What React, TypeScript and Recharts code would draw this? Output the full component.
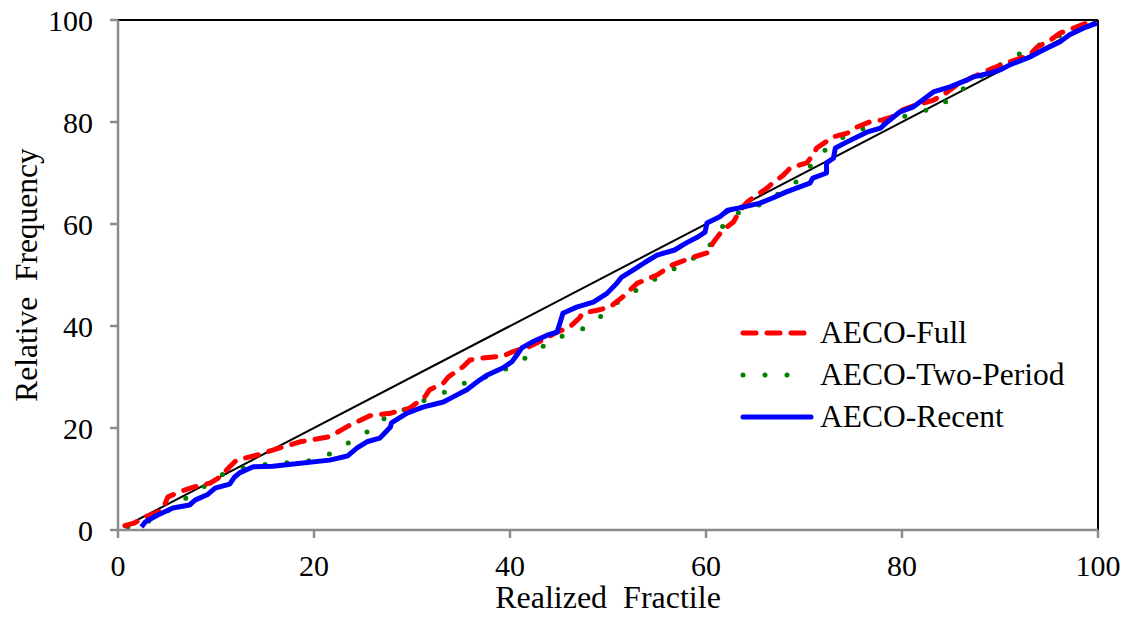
import React from "react";
import {
  LineChart,
  Line,
  XAxis,
  YAxis,
  Legend,
  ReferenceLine,
  Label,
} from "recharts";

const xTicks = [0, 20, 40, 60, 80, 100];
const yTicks = [0, 20, 40, 60, 80, 100];

const diagonal = [
  [1, 1],
  [100, 100],
];

const aecoFull = [
  [0.7, 0.85], [1.7, 1.4], [2.6, 2.4], [4.5, 3.9], [5.1, 6.5], [6.3, 7.5], [7.7, 8.4],
  [9.4, 9.2], [10.4, 10.4], [11.4, 12.4], [12.1, 13.7], [14.2, 14.7], [16.5, 16.1],
  [18.6, 17.3], [21.6, 18.3], [23.7, 20.6], [25.7, 22.4], [27.8, 22.9], [29.8, 23.9],
  [31.3, 26.1], [31.8, 27.5], [33.2, 28.8], [33.7, 30], [35.2, 32], [35.9, 33.3],
  [37.2, 33.7], [39.3, 34.1], [40.2, 34.9], [42, 36], [43.4, 37.3], [44.8, 38.8],
  [46.1, 39.8], [47.1, 41.6], [47.4, 42.5], [48.9, 43.1], [50.2, 43.7], [51.5, 45.7],
  [53, 48.4], [55, 50], [56.6, 52], [58.7, 53.5], [60.4, 54.5], [60.7, 56.3],
  [61.7, 58.8], [62.8, 60.4], [63.5, 62.7], [64.2, 64.3], [65.2, 65.7], [66.2, 67],
  [66.8, 68], [67.9, 69.6], [68.6, 71], [70.3, 72], [70.9, 73.5], [71.3, 74.9],
  [73, 77.1], [74.4, 77.8], [75.4, 79], [76.7, 80], [78, 80.4], [79, 81], [80.1, 82.4],
  [81.1, 83.1], [83.2, 84.3], [84.2, 85.3], [85.6, 87.3], [87.7, 89.2], [89.3, 90.6],
  [91, 91.8], [93, 93.1], [93.8, 94.7], [95.1, 96], [96.1, 97.4], [97.9, 98.7],
  [99.2, 99.7],
];

const aecoTwoPeriod = [
  [1, 0.5], [2, 1], [4.3, 2.5], [6, 5.3], [8, 7.3], [9.7, 10], [11.7, 11.8], [14, 12.6],
  [16.2, 13.1], [18.8, 13.3], [21.1, 14.3], [22.9, 16.6], [24.9, 18.2], [26.4, 21.2],
  [28.5, 22.9], [30.5, 24.9], [32.8, 26.5], [34.7, 28.4], [36.7, 29.6], [38.7, 30.6],
  [40.6, 32.7], [42.7, 34.9], [44.3, 37.5], [46.5, 38.6], [48.6, 40.6], [50.2, 43.7],
  [52, 45.9], [54, 48.4], [56, 50.4], [57.9, 52.5], [59.7, 54.3], [61.1, 57.5],
  [62.2, 61.2], [64.2, 63], [66.3, 64.3], [68.1, 67], [70, 69.2], [71.1, 72.8],
  [72.9, 75.7], [74.8, 78], [76.9, 79.2], [79, 80], [81.1, 81.8], [83.5, 82.7],
  [85.3, 85.1], [87.1, 87.8], [88.8, 89.8], [90.7, 92], [92.7, 94.1], [94.8, 95.7],
  [96.8, 97.6], [98.5, 99], [99.9, 100],
];

const aecoRecent = [
  [2.4, 0.6], [2.8, 1.6], [4, 2.9], [5.6, 4.3], [7.3, 4.9], [7.9, 5.9], [9.1, 6.9],
  [9.9, 8.2], [11.4, 9], [11.9, 10.4], [12.4, 11.2], [13.8, 12.4], [15.8, 12.5],
  [18.6, 13.1], [21.6, 13.7], [23.4, 14.5], [24.4, 16.1], [25.4, 17.3], [26.7, 18],
  [27.8, 20.2], [27.9, 21], [29.5, 22.9], [31.1, 24.1], [33.2, 25.1], [34.2, 26.1],
  [35.6, 27.5], [36.9, 29.4], [37.7, 30.4], [39.3, 31.8], [40.2, 33], [40.7, 34.3],
  [41.2, 35.7], [42.3, 36.9], [43.8, 38.2], [44.8, 38.8], [45.1, 40.6], [45.4, 42.5],
  [46.8, 43.7], [48.5, 44.7], [49.9, 46.4], [50.9, 48.4], [51.4, 49.6], [52.6, 51],
  [53.8, 52.5], [55, 53.9], [56.8, 54.9], [58, 56.3], [59.2, 57.5], [59.9, 58.4],
  [60.1, 60.2], [61.4, 61.4], [62.2, 62.7], [63.8, 63.3], [65.5, 64.1], [66.8, 65.1],
  [68.2, 66.3], [70.6, 68], [70.9, 69], [72.3, 70], [72.3, 72], [73, 72.9], [73.2, 74.9],
  [74.4, 76.1], [76.4, 78], [77.8, 78.8], [78.5, 80], [79.8, 82], [81.1, 82.9],
  [82.1, 84.3], [83.2, 85.9], [84.9, 86.9], [86.6, 88.2], [87.2, 88.8], [89, 89.6],
  [90, 90.2], [91, 91.2], [93, 92.7], [94.4, 94.1], [96.1, 95.7], [97.1, 97.1],
  [98.5, 98.4], [99.9, 99.4],
];

const toRows = (pts: number[][]) => pts.map(([x, y]) => ({ x, y }));

const FONT = "'Liberation Serif', 'Times New Roman', serif";
const AXIS_GRAY = "#8c8c8c";
const RED_DASH = "13 11";
const GREEN_DOTS = "0 22";

const legendItems = [
  { name: "AECO-Full", color: "#ff0000", dash: RED_DASH, x2: 806 },
  { name: "AECO-Two-Period", color: "#008000", dash: GREEN_DOTS, x2: 794 },
  { name: "AECO-Recent", color: "#0000ff", dash: undefined, x2: 811 },
];

// zero-height box so the legend doesn't eat plot space
function LegendBox() {
  return (
    <div style={{ height: 0, overflow: "visible" }}>
      <div style={{ fontFamily: FONT, fontSize: 31.5, color: "#000" }}>
        {legendItems.map((item) => (
          <div key={item.name} style={{ display: "flex", alignItems: "center", height: 42 }}>
            <svg width={82} height={12}>
              <line
                x1={5}
                y1={6}
                x2={item.x2 - 738}
                y2={6}
                stroke={item.color}
                strokeWidth={5}
                strokeLinecap="round"
                strokeDasharray={item.dash}
              />
            </svg>
            <span>{item.name}</span>
          </div>
        ))}
      </div>
    </div>
  );
}

export default function App() {
  return (
    <div style={{ position: "absolute", left: 0, top: 0, background: "#fff" }}>
      <LineChart
        width={1130}
        height={617}
        margin={{ top: 20, right: 32, bottom: 0, left: 0 }}
      >
        <XAxis
          dataKey="x"
          type="number"
          domain={[0, 100]}
          ticks={xTicks}
          allowDuplicatedCategory={false}
          height={87}
          tickSize={8}
          tickMargin={17}
          stroke={AXIS_GRAY}
          strokeWidth={2.5}
          tick={{ fill: "#000", fontSize: 30, fontFamily: FONT }}
        >
          <Label
            content={({ viewBox }: any) => (
              <text
                x={viewBox.x + viewBox.width / 2}
                y={608}
                textAnchor="middle"
                fontFamily={FONT}
                fontSize={32}
                fill="#000"
                style={{ whiteSpace: "pre" }}
              >
                Realized  Fractile
              </text>
            )}
          />
        </XAxis>
        <YAxis
          dataKey="y"
          type="number"
          domain={[0, 100]}
          ticks={yTicks}
          width={118}
          tickSize={8}
          tickMargin={17}
          stroke={AXIS_GRAY}
          strokeWidth={2.5}
          tick={{ fill: "#000", fontSize: 30, fontFamily: FONT }}
        >
          <Label
            content={({ viewBox }: any) => (
              <text
                x={0}
                y={0}
                transform={`translate(37, ${viewBox.y + viewBox.height / 2}) rotate(-90)`}
                textAnchor="middle"
                fontFamily={FONT}
                fontSize={31.5}
                fill="#000"
                style={{ whiteSpace: "pre" }}
              >
                Relative  Frequency
              </text>
            )}
          />
        </YAxis>
        <ReferenceLine y={100} stroke="#000" strokeWidth={2} ifOverflow="extendDomain" />
        <ReferenceLine x={100} stroke="#000" strokeWidth={2} ifOverflow="extendDomain" />
        <Line
          data={toRows(diagonal)}
          dataKey="y"
          type="linear"
          stroke="#000"
          strokeWidth={2}
          dot={false}
          legendType="none"
          isAnimationActive={false}
        />
        <Line
          data={toRows(aecoTwoPeriod)}
          dataKey="y"
          name="AECO-Two-Period"
          type="linear"
          stroke="#008000"
          strokeWidth={5}
          strokeDasharray={GREEN_DOTS}
          strokeLinecap="round"
          dot={false}
          isAnimationActive={false}
        />
        <Line
          data={toRows(aecoFull)}
          dataKey="y"
          name="AECO-Full"
          type="linear"
          stroke="#ff0000"
          strokeWidth={5}
          strokeDasharray={RED_DASH}
          strokeLinecap="round"
          dot={false}
          isAnimationActive={false}
        />
        <Line
          data={toRows(aecoRecent)}
          dataKey="y"
          name="AECO-Recent"
          type="linear"
          stroke="#0000ff"
          strokeWidth={5}
          strokeLinejoin="round"
          dot={false}
          isAnimationActive={false}
        />
        <Legend
          content={() => <LegendBox />}
          wrapperStyle={{ position: "absolute", left: 738, top: 312, width: 360, height: 0 }}
        />
      </LineChart>
    </div>
  );
}
